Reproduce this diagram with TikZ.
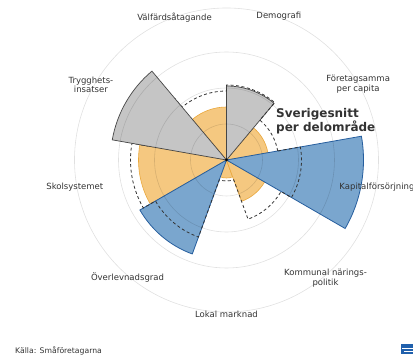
\documentclass[tikz,border=0pt]{standalone}
\usepackage{fontspec}
\setmainfont{DejaVu Sans}
\usepackage{tikz}
\usetikzlibrary{positioning}
\definecolor{snittorange}{RGB}{245,200,128}
\definecolor{snittorangeline}{RGB}{234,168,60}
\definecolor{snittblue}{RGB}{122,166,206}
\definecolor{snittblueline}{RGB}{38,94,158}
\definecolor{snittgray}{RGB}{197,197,197}
\definecolor{snittgrayline}{RGB}{70,70,70}
\definecolor{textgray}{RGB}{51,51,51}
\definecolor{logoblue}{RGB}{32,96,172}
\tikzset{circ/.style = {fill, circle, inner sep = 0, minimum size = 3}}
\tikzset{orangewedge/.style = {fill = snittorange, draw = snittorangeline, line width = 0.6}}
\tikzset{bluewedge/.style = {fill = snittblue, draw = snittblueline, line width = 0.8}}
\tikzset{graywedge/.style = {fill = snittgray, draw = snittgrayline, line width = 0.7}}
\tikzset{ring/.style = {draw = black, draw opacity = 0.12, line width = 0.6}}
\tikzset{snitt/.style = {draw = textgray, line width = 0.8, dash pattern = on 3 off 2.5}}
\tikzset{omrade/.style = {text = textgray, font = \fontsize{8.5}{9.6}\selectfont, align = center, inner sep = 0}}

\begin{document}
\begin{tikzpicture}[x = 1pt, y = 1pt]
    \useasboundingbox (-226.5, -201) rectangle (186.5, 160);
    \fill[white] (-226.5, -201) rectangle (186.5, 160);

    \draw[orangewedge] (0, 0) -- (10:42) arc [start angle = 10, end angle = 50, radius = 42] -- cycle;
    \draw[orangewedge] (0, 0) -- (90:53) arc [start angle = 90, end angle = 130, radius = 53] -- cycle;
    \draw[orangewedge] (0, 0) -- (170:88) arc [start angle = 170, end angle = 210, radius = 88] -- cycle;
    \draw[orangewedge] (0, 0) -- (250:18) arc [start angle = 250, end angle = 290, radius = 18] -- cycle;
    \draw[orangewedge] (0, 0) -- (290:44) arc [start angle = 290, end angle = 330, radius = 44] -- cycle;
    \draw[bluewedge] (0, 0) -- (210:100) arc [start angle = 210, end angle = 250, radius = 100] -- cycle;
    \draw[bluewedge] (0, 0) -- (330:137) arc [start angle = 330, end angle = 370, radius = 137] -- cycle;
    \draw[graywedge] (0, 0) -- (50:74) arc [start angle = 50, end angle = 90, radius = 74] -- cycle;

    \draw[snitt] (10:52) arc [start angle = 10, end angle = 50, radius = 52] -- (50:75)
        arc [start angle = 50, end angle = 90, radius = 75] -- (90:69)
        arc [start angle = 90, end angle = 130, radius = 69] -- (130:80)
        arc [start angle = 130, end angle = 170, radius = 80] -- (170:96)
        arc [start angle = 170, end angle = 210, radius = 96] -- (210:82)
        arc [start angle = 210, end angle = 250, radius = 82] -- (250:21)
        arc [start angle = 250, end angle = 290, radius = 21] -- (290:63)
        arc [start angle = 290, end angle = 330, radius = 63] -- (330:75)
        arc [start angle = 330, end angle = 370, radius = 75] -- cycle;

    \draw[graywedge] (0, 0) -- (130:116) arc [start angle = 130, end angle = 170, radius = 116] -- cycle;

    \draw[ring] (0, 0) circle [radius = 36];
    \draw[ring] (0, 0) circle [radius = 72];
    \draw[ring] (0, 0) circle [radius = 108];
    \draw[ring] (0, 0) circle [radius = 152];
    \node[circ, text = textgray] (centrum) at (0, 0) {};

    \node[omrade] (demografi) at (70:153) {Demografi};
    \node[omrade] (foretagsamma) at (30:152) {Företagsamma\\per capita};
    \node[omrade, anchor = west] (kapital) at (112.8, -27.3) {Kapitalförsörjning};
    \node[omrade] (kommunal) at (-50:154) {Kommunal närings-\\politik};
    \node[omrade] (lokal) at (-90:154) {Lokal marknad};
    \node[omrade] (overlevnad) at (-130:154) {Överlevnadsgrad};
    \node[omrade] (skolsystem) at (190:154) {Skolsystemet};
    \node[omrade] (trygghet) at (151:155) {Trygghets-\\insatser};
    \node[omrade] (valfard) at (110:152) {Välfärdsåtagande};

    \node[text = textgray, font = \bfseries\fontsize{12}{12.7}\selectfont, align = left, anchor = west, inner sep = 0] (rubrik) at (49.5, 38.7) {Sverigesnitt\\per delområde};
    \node[text = textgray, font = \fontsize{7.7}{9}\selectfont, anchor = west, inner sep = 0] (kalla) at (-211.5, -191) {Källa: Småföretagarna};

    \fill[logoblue] (174.5, -184) rectangle (188, -194);
    \draw[white, line width = 0.6] (176, -188) -- (188, -188);
    \draw[white, line width = 0.6] (178, -191) -- (188, -191);
\end{tikzpicture}
\end{document}
